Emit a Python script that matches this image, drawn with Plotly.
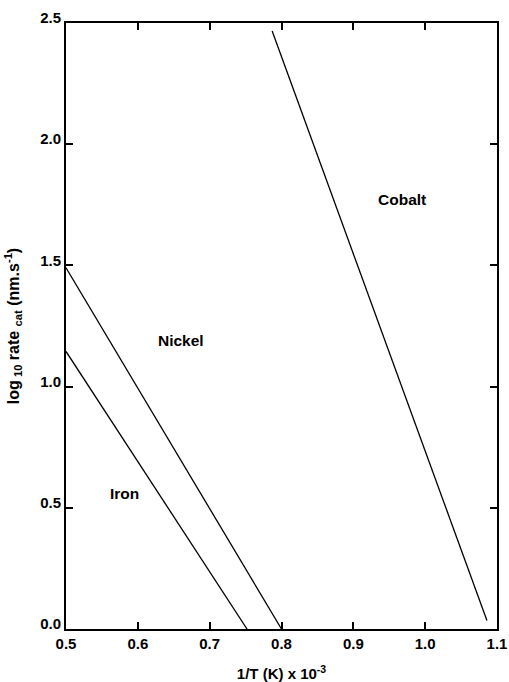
import plotly.graph_objects as go

# Data
series_names = ["Iron", "Nickel", "Cobalt"]
iron_x = [0.5, 0.752]
iron_y = [1.145, 0.0]
nickel_x = [0.5, 0.80]
nickel_y = [1.49, 0.0]
cobalt_x = [0.787, 1.086]
cobalt_y = [2.467, 0.035]

label_x = [0.582, 0.66, 0.968]
label_y = [0.56, 1.19, 1.77]

x_ticks = [0.5, 0.6, 0.7, 0.8, 0.9, 1.0, 1.1]
x_ticktext = ["0.5", "0.6", "0.7", "0.8", "0.9", "1.0", "1.1"]
y_ticks = [0.0, 0.5, 1.0, 1.5, 2.0, 2.5]
y_ticktext = ["0.0", "0.5", "1.0", "1.5", "2.0", "2.5"]

FONT = "Liberation Sans, Arial, sans-serif"

fig = go.Figure()
for xs, ys in [(iron_x, iron_y), (nickel_x, nickel_y), (cobalt_x, cobalt_y)]:
    fig.add_trace(go.Scatter(x=xs, y=ys, mode="lines",
                             line=dict(color="black", width=1.3),
                             showlegend=False, hoverinfo="skip"))

for name, lx, ly in zip(series_names, label_x, label_y):
    fig.add_annotation(x=lx, y=ly, text=f"<b>{name}</b>", showarrow=False,
                       font=dict(family=FONT, size=15.5, color="black"))

fig.update_layout(
    width=509, height=682,
    margin=dict(l=66, r=12, t=23, b=53),
    paper_bgcolor="white", plot_bgcolor="white",
    font=dict(family=FONT, color="black"),
    showlegend=False,
)
fig.update_xaxes(
    range=[0.5, 1.1], tickvals=x_ticks, ticktext=x_ticktext,
    ticks="inside", ticklen=7, tickwidth=1.5, tickcolor="black",
    showline=True, linewidth=2, linecolor="black", mirror="ticks",
    showgrid=False, zeroline=False, automargin=False,
    tickfont=dict(family=FONT, size=15, color="black", weight="bold"),
    title=dict(text="<b>1/T (K) x 10<sup>-3</sup></b>",
               font=dict(family=FONT, size=15, color="black"), standoff=18),
)
fig.update_yaxes(
    range=[0.0, 2.5], tickvals=y_ticks, ticktext=y_ticktext,
    ticks="inside", ticklen=7, tickwidth=1.5, tickcolor="black",
    showline=True, linewidth=2, linecolor="black", mirror="ticks",
    showgrid=False, zeroline=False, automargin=False,
    ticklabelshift=-5,
    tickfont=dict(family=FONT, size=15, color="black", weight="bold"),
    title=dict(text="<b>log<sub> 10</sub> rate <sub>cat</sub> (nm.s<sup>-1</sup>)</b>",
               font=dict(family=FONT, size=16, color="black"), standoff=17),
)

fig.write_html(
    "out.html",
    config={"displayModeBar": False},
    post_script="document.body.style.margin='0';document.body.style.overflow='hidden';",
)
